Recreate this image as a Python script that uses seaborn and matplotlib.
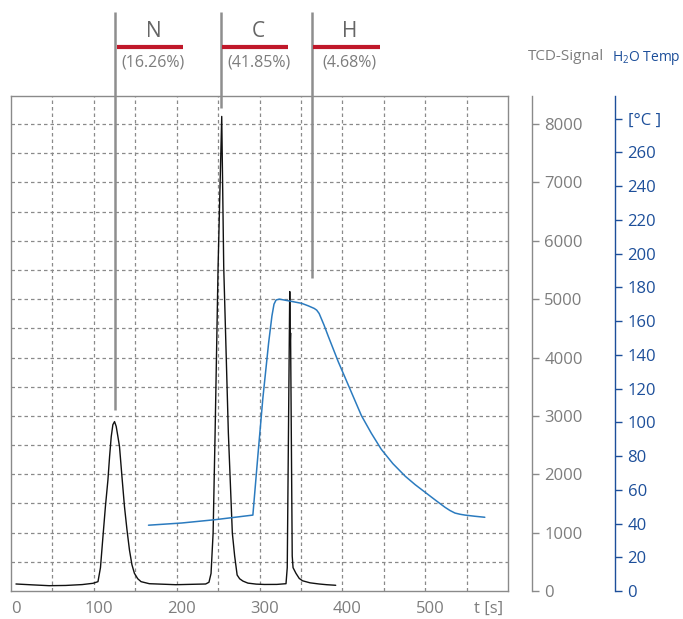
import numpy as np
import pandas as pd
import matplotlib
matplotlib.use("Agg")
import matplotlib.pyplot as plt
import seaborn as sns

# TCD signal (black trace)
tcd_t = [0, 20, 40, 60, 80, 93, 99, 102, 105, 108, 111, 113, 115, 117, 119, 121,
         123, 125, 128, 131, 134, 137, 140, 143, 147, 151,
         161, 193, 229, 233, 235.5, 238, 240.4, 244, 248.4, 250.8, 256.4, 261.2,
         264, 267, 270, 274, 280, 290, 300, 315, 326, 327.5, 330.5, 331.2, 331.5,
         333.5, 334.5, 338, 342, 346, 355, 366, 375, 386]
tcd_v = [120, 105, 91, 95, 110, 132, 160, 400, 930, 1450, 1900, 2300, 2645, 2850,
         2902, 2820, 2650, 2473, 1950, 1445, 1050, 703, 450, 303, 210, 160,
         125, 108, 120, 150, 300, 994, 2708, 5554, 8130, 5554, 2708, 994,
         600, 274, 210, 170, 135, 118, 112, 113, 125, 400, 5130, 4300, 4420,
         600, 400, 303, 215, 175, 140, 120, 108, 98]

# water temperature (blue trace)
temp_t = [160, 200, 241, 286, 292, 298, 305, 309, 311.5, 314, 318, 329, 345, 353,
          360, 363, 366, 369, 372, 377, 383, 389, 403, 417, 429, 441, 455, 470,
          482, 494, 506, 518, 524, 530, 536, 542, 554, 566]
temp_v = [39, 40.3, 42.3, 45, 80, 114, 147, 163, 170, 172.5, 173, 172, 170.5, 169,
          167.5, 166.5, 164.5, 161, 157.5, 151, 143.5, 136, 120, 104, 93.5, 84,
          75.5, 68, 63, 58.5, 54, 49.6, 47.7, 46.2, 45.5, 45, 44.3, 43.7]

# peak annotations
elements = ["N", "C", "H"]
percents = ["(16.26%)", "(41.85%)", "(4.68%)"]
marker_t = [120, 247, 357]
marker_bottom = [3100, 8280, 5360]

x_ticks = [0, 100, 200, 300, 400, 500, 571]
x_labels = ["0", "100", "200", "300", "400", "500", "t [s]"]
tcd_ticks = [0, 1000, 2000, 3000, 4000, 5000, 6000, 7000, 8000]
temp_ticks = list(range(0, 281, 20))
temp_labels = [str(v) for v in range(0, 261, 20)] + ["[°C ]"]

GRAY = "#8a8a8a"
TXT = "#7d7d7d"
BLUE_AX = "#1d4f9a"
BLUE_LN = "#2b7bbf"
RED = "#c0182a"

sns.set_style("white")
plt.rcParams["font.family"] = ["Open Sans", "DejaVu Sans"]
plt.rcParams["mathtext.fontset"] = "custom"
plt.rcParams["mathtext.rm"] = "Open Sans"

fig = plt.figure(figsize=(6.83, 6.19), dpi=100)
ax = fig.add_axes([11 / 683, 28 / 619, 497 / 683, 495 / 619])
ax.set_xlim(-6, 594)
ax.set_ylim(0, 8480)

# dashed grid
for gx in np.arange(44, 594, 50):
    ax.axvline(gx, color=GRAY, lw=0.9, dashes=(2.8, 2.4), zorder=0)
for gy in np.arange(500, 8001, 500):
    ax.axhline(gy, color=GRAY, lw=0.9, dashes=(2.8, 2.4), zorder=0)

for s in ax.spines.values():
    s.set_color(GRAY)
    s.set_linewidth(1.0)

df_tcd = pd.DataFrame({"t": tcd_t, "v": tcd_v})
sns.lineplot(data=df_tcd, x="t", y="v", ax=ax, color="#111111", lw=1.0,
             estimator=None, sort=False, zorder=3)

ax.set_xticks(x_ticks)
ax.set_xticklabels(x_labels)
ax.tick_params(axis="x", length=0, pad=7, labelsize=12, labelcolor=TXT)
ax.set_yticks([])
ax.set_xlabel("")
ax.set_ylabel("")

# TCD axis
ax_tcd = ax.twinx()
ax_tcd.set_ylim(ax.get_ylim())
for k in ["left", "top", "bottom"]:
    ax_tcd.spines[k].set_visible(False)
ax_tcd.spines["right"].set_position(("outward", 17))
ax_tcd.spines["right"].set_color(GRAY)
ax_tcd.spines["right"].set_linewidth(1.0)
ax_tcd.set_yticks(tcd_ticks)
ax_tcd.tick_params(axis="y", length=4.8, width=1.0, color=GRAY, pad=4.3,
                   labelsize=12, labelcolor=TXT)

# temperature axis
ax_temp = ax.twinx()
ax_temp.set_ylim(0, 293.4)
for k in ["left", "top", "bottom"]:
    ax_temp.spines[k].set_visible(False)
ax_temp.spines["right"].set_position(("outward", 77))
ax_temp.spines["right"].set_color(BLUE_AX)
ax_temp.spines["right"].set_linewidth(1.0)
ax_temp.set_yticks(temp_ticks)
ax_temp.set_yticklabels(temp_labels)
ax_temp.tick_params(axis="y", length=4.8, width=1.0, color=BLUE_AX, pad=4.3,
                    labelsize=12, labelcolor=BLUE_AX)

df_temp = pd.DataFrame({"t": temp_t, "v": temp_v})
sns.lineplot(data=df_temp, x="t", y="v", ax=ax_temp, color=BLUE_LN, lw=1.1,
             estimator=None, sort=False, zorder=2)
ax_temp.set_xlabel("")
ax_temp.set_ylabel("")

# peak markers with element labels (drawn on the TCD scale)
for el, pct, mt, mb in zip(elements, percents, marker_t, marker_bottom):
    ax_tcd.plot([mt, mt], [mb, 9925], color="#8e8e8e", lw=1.8, clip_on=False,
                solid_capstyle="butt", zorder=5)
    ax_tcd.plot([mt + 2, mt + 82], [9320, 9320], color=RED, lw=3.0,
                clip_on=False, solid_capstyle="butt", zorder=5)
    ax_tcd.text(mt + 46, 9590, el, ha="center", va="center", fontsize=15,
                color="#666666")
    ax_tcd.text(mt + 46, 9060, pct, ha="center", va="center", fontsize=11.5,
                color=TXT)

fig.text(566 / 683, 1 - 57 / 619, "TCD-Signal", ha="center", va="center",
         fontsize=11, color=TXT)
fig.text(612 / 683, 1 - 58 / 619, r"H$_\mathregular{2}$O Temp", ha="left",
         va="center", fontsize=10, color=BLUE_AX)

fig.savefig("out.png", dpi=100)
